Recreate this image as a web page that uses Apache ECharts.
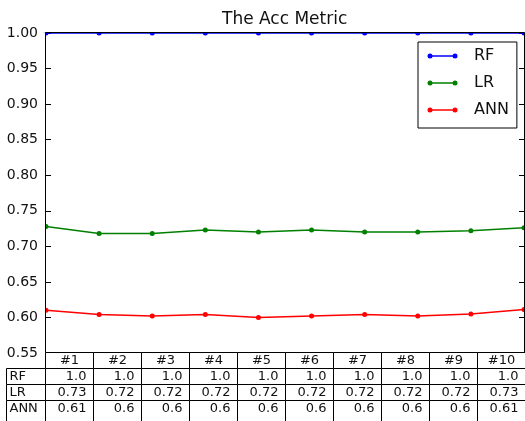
<!DOCTYPE html>
<html>
<head>
<meta charset="utf-8">
<script src="https://cdn.jsdelivr.net/npm/echarts@6/dist/echarts.min.js"></script>
<style>
  html, body { margin: 0; padding: 0; background: #fff; }
  #chart { width: 525px; height: 421px; }
</style>
</head>
<body>
<div id="chart"></div>
<script>
// ---- data ----
const runs = ['#1', '#2', '#3', '#4', '#5', '#6', '#7', '#8', '#9', '#10'];
const modelNames = ['RF', 'LR', 'ANN'];
const rfAcc  = [1.0, 1.0, 1.0, 1.0, 1.0, 1.0, 1.0, 1.0, 1.0, 1.0];
const lrAcc  = [0.728, 0.718, 0.718, 0.723, 0.720, 0.723, 0.720, 0.720, 0.722, 0.726];
const annAcc = [0.610, 0.604, 0.602, 0.604, 0.600, 0.602, 0.604, 0.602, 0.6048, 0.611];
const yMin = 0.55, yMax = 1.0, yStep = 0.05;

// ---- styling / layout ----
const FONT = 'DejaVu Sans';
const TEXT = '#111';
const colors = ['#0000ff', '#008000', '#ff0000'];
const accBySeries = [rfAcc, lrAcc, annAcc];

const GRID = { left: 46, top: 33, width: 478, height: 320 };

// python-style str(round(v, 2))
function fmt2(v) {
  const r = Math.round(v * 100) / 100;
  let s = String(r);
  if (s.indexOf('.') < 0) s += '.0';
  return s;
}

// frame + masks over the plot edges (markers are clipped at the axes box)
const overlay = [];
const fx = GRID.left - 0.5, fy = GRID.top - 0.5;
overlay.push({ type: 'rect', z: 100, silent: true,
  shape: { x: 40, y: 27, width: 486, height: fy - 27 }, style: { fill: '#fff' } });
overlay.push({ type: 'rect', z: 100, silent: true,
  shape: { x: 40, y: fy, width: fx - 40, height: GRID.height + 2 }, style: { fill: '#fff' } });
overlay.push({ type: 'rect', z: 101, silent: true,
  shape: { x: fx, y: fy, width: GRID.width + 1, height: GRID.height },
  style: { fill: 'none', stroke: '#000', lineWidth: 1 } });

// table below the axes
const colW = 48;
const labelColX = 6.5;
const rowTops = [fy + GRID.height, fy + GRID.height + 16, fy + GRID.height + 32, fy + GRID.height + 48];
const rowHs = [16, 16, 16, 26];
const cellStroke = { fill: '#fff', stroke: '#000', lineWidth: 1 };
const cellFont = '13px "' + FONT + '"';

runs.forEach((r, i) => {
  const x = fx + colW * i;
  overlay.push({ type: 'rect', z: 101, silent: true,
    shape: { x: x, y: rowTops[0], width: colW, height: rowHs[0] }, style: cellStroke });
  overlay.push({ type: 'text', z: 102, silent: true, x: x + colW / 2, y: rowTops[0] + rowHs[0] / 2,
    style: { text: r, font: cellFont, fill: TEXT, align: 'center', verticalAlign: 'middle' } });
});
modelNames.forEach((name, k) => {
  const ry = rowTops[k + 1], rh = rowHs[k + 1];
  overlay.push({ type: 'rect', z: 101, silent: true,
    shape: { x: labelColX, y: ry, width: fx - labelColX, height: rh }, style: cellStroke });
  overlay.push({ type: 'text', z: 102, silent: true, x: labelColX + 3, y: ry + 8,
    style: { text: name, font: cellFont, fill: TEXT, align: 'left', verticalAlign: 'middle' } });
  accBySeries[k].forEach((v, i) => {
    const x = fx + colW * i;
    overlay.push({ type: 'rect', z: 101, silent: true,
      shape: { x: x, y: ry, width: colW, height: rh }, style: cellStroke });
    overlay.push({ type: 'text', z: 102, silent: true, x: x + colW - 7, y: ry + 8,
      style: { text: fmt2(v), font: cellFont, fill: TEXT, align: 'right', verticalAlign: 'middle' } });
  });
});

// legend key glyphs: a short line with a marker at each end
const LEG = { left: 418, top: 42, padT: 6, padL: 12, itemW: 25, itemH: 16, gap: 11 };
modelNames.forEach((name, k) => {
  const cy = LEG.top + LEG.padT + LEG.itemH / 2 + k * (LEG.itemH + LEG.gap);
  const x0 = LEG.left + LEG.padL, x1 = x0 + LEG.itemW;
  overlay.push({ type: 'line', z: 110, silent: true,
    shape: { x1: x0, y1: cy, x2: x1, y2: cy }, style: { stroke: colors[k], lineWidth: 1.5 } });
  [x0, x1].forEach(cx => {
    overlay.push({ type: 'circle', z: 111, silent: true,
      shape: { cx: cx, cy: cy, r: 2.5 }, style: { fill: colors[k] } });
  });
});

const chart = echarts.init(document.getElementById('chart'), null, { renderer: 'canvas' });

chart.setOption({
  animation: false,
  backgroundColor: '#fff',
  textStyle: { fontFamily: FONT },
  title: {
    text: 'The Acc Metric',
    left: 222, top: 11, padding: 0,
    textStyle: { fontFamily: FONT, fontSize: 17, fontWeight: 'normal', color: TEXT }
  },
  legend: {
    data: modelNames,
    orient: 'vertical',
    left: LEG.left, top: LEG.top,
    padding: [LEG.padT, 8, 10, LEG.padL],
    itemWidth: LEG.itemW, itemHeight: LEG.itemH, itemGap: LEG.gap,
    icon: 'none',
    backgroundColor: '#fff', borderColor: '#000', borderWidth: 1, borderRadius: 0,
    z: 50,
    textStyle: { fontFamily: FONT, fontSize: 16, color: TEXT, padding: [0, 0, 0, 14] }
  },
  grid: { left: GRID.left, top: GRID.top, width: GRID.width, height: GRID.height, containLabel: false },
  xAxis: {
    type: 'category',
    data: runs,
    boundaryGap: false,
    axisLine: { show: false }, axisTick: { show: false }, axisLabel: { show: false },
    splitLine: { show: false }
  },
  yAxis: [
    {
      type: 'value', min: yMin, max: yMax, interval: yStep, position: 'left',
      axisLine: { show: false },
      axisTick: { show: true, inside: true, length: 5, lineStyle: { color: '#000', width: 1 } },
      axisLabel: { margin: 8, fontFamily: FONT, fontSize: 14, color: TEXT,
        formatter: v => v.toFixed(2) },
      splitLine: { show: false }
    },
    {
      type: 'value', min: yMin, max: yMax, interval: yStep, position: 'right',
      axisLine: { show: false },
      axisTick: { show: true, inside: true, length: 5, lineStyle: { color: '#000', width: 1 } },
      axisLabel: { show: false },
      splitLine: { show: false }
    }
  ],
  series: modelNames.map((name, k) => ({
    name: name,
    type: 'line',
    data: accBySeries[k],
    yAxisIndex: 0,
    symbol: 'circle',
    symbolSize: 5,
    showSymbol: true,
    clip: true,
    color: colors[k],
    lineStyle: { color: colors[k], width: 1.5 },
    itemStyle: { color: colors[k] },
    emphasis: { disabled: true }
  })),
  graphic: overlay
});
</script>
</body>
</html>
